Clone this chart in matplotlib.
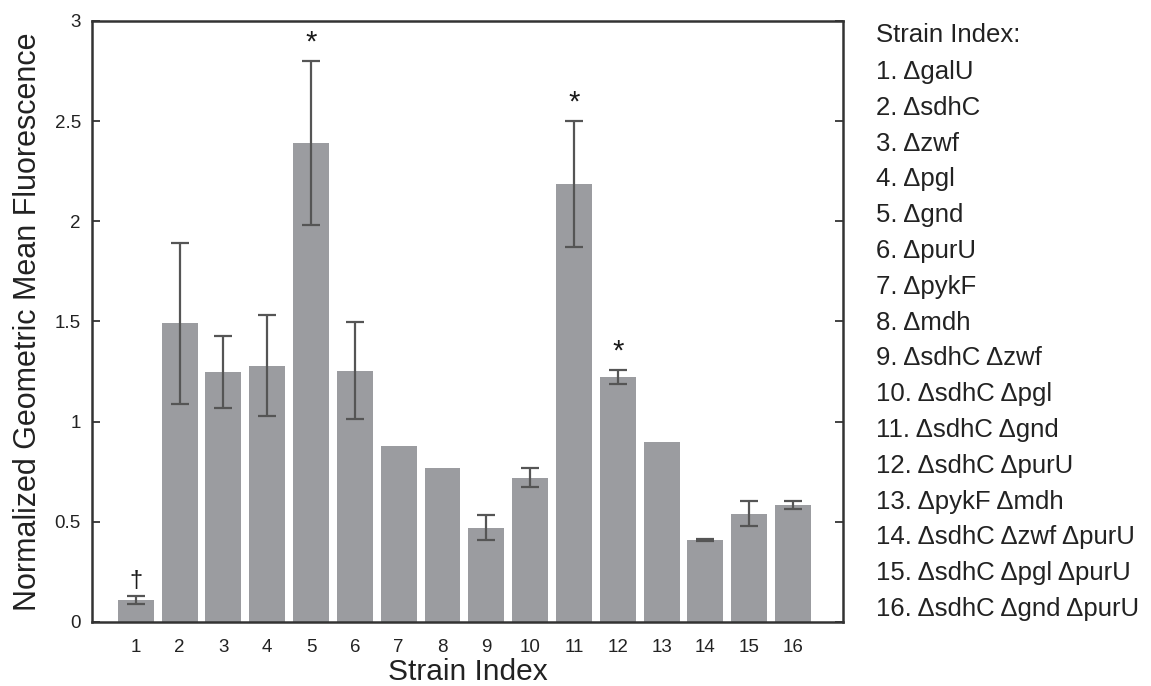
import matplotlib
matplotlib.use("Agg")
import matplotlib.pyplot as plt
import numpy as np

plt.rcParams['font.family'] = ['Liberation Sans', 'DejaVu Sans']

# data
strain_index = list(range(1, 17))
mean_fluor = [0.11, 1.49, 1.25, 1.28, 2.39, 1.255, 0.88, 0.77,
              0.47, 0.72, 2.187, 1.223, 0.90, 0.41, 0.54, 0.583]
err = [0.02, 0.40, 0.18, 0.25, 0.41, 0.24, 0.0, 0.0,
       0.063, 0.048, 0.313, 0.035, 0.0, 0.004, 0.062, 0.019]
marks = {1: '\u2020', 5: '*', 11: '*', 12: '*'}
strain_names = ['\u0394galU', '\u0394sdhC', '\u0394zwf', '\u0394pgl', '\u0394gnd',
                '\u0394purU', '\u0394pykF', '\u0394mdh',
                '\u0394sdhC \u0394zwf', '\u0394sdhC \u0394pgl',
                '\u0394sdhC \u0394gnd', '\u0394sdhC \u0394purU',
                '\u0394pykF \u0394mdh', '\u0394sdhC \u0394zwf \u0394purU',
                '\u0394sdhC \u0394pgl \u0394purU', '\u0394sdhC \u0394gnd \u0394purU']

fig = plt.figure(figsize=(11.51, 6.86), dpi=100)
ax = fig.add_axes([0.0799, 0.0933, 0.6525, 0.8761])

ax.bar(strain_index, mean_fluor, width=0.82, color='#9b9ca0', zorder=2)
has_err = [i for i, e in enumerate(err) if e > 0]
ax.errorbar([strain_index[i] for i in has_err], [mean_fluor[i] for i in has_err],
            yerr=[err[i] for i in has_err], fmt='none', ecolor='#555555',
            elinewidth=1.6, capsize=6.5, capthick=1.6, zorder=3)

for idx, sym in marks.items():
    top = mean_fluor[idx - 1] + err[idx - 1]
    ax.annotate(sym, (idx, top), xytext=(0, 3), textcoords='offset points',
                ha='center', va='bottom', fontsize=21 if sym == '*' else 17,
                color='#1a1a1a')

ax.set_xlim(0, 17.14)
ax.set_ylim(0, 3)
ax.set_xticks(strain_index)
ax.set_yticks(np.arange(0, 3.01, 0.5))
ax.set_yticklabels(['0', '0.5', '1', '1.5', '2', '2.5', '3'])
ax.tick_params(axis='x', length=0, pad=12, labelsize=13.5, colors='#222222')
ax.tick_params(axis='y', direction='in', length=6, width=1.2, pad=8,
               labelsize=13.5, colors='#222222', right=True)
for s in ax.spines.values():
    s.set_linewidth(1.8)
    s.set_color('#333333')

ax.set_xlabel('Strain Index', fontsize=21.5, color='#222222', labelpad=2)
ax.set_ylabel('Normalized Geometric Mean Fluorescence', fontsize=22,
              color='#222222', labelpad=8)

# strain key on the right
fig.text(876 / 1151, 1 - 35 / 686, 'Strain Index:', fontsize=18.5,
         va='center', ha='left', color='#222222')
for i, name in enumerate(strain_names):
    y = 72 + i * 35.8
    fig.text(876 / 1151, 1 - y / 686, f'{i + 1}. {name}', fontsize=18.5,
             va='center', ha='left', color='#222222')

fig.savefig('out.png', dpi=100, facecolor='white')
